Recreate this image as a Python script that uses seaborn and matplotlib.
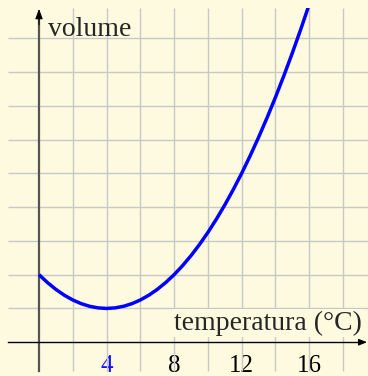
import matplotlib
matplotlib.use("Agg")
import matplotlib.pyplot as plt
import seaborn as sns
from matplotlib.patches import Rectangle

# Volume of water against temperature (arbitrary units), sampled every 0.5 °C
temperature = [0, 0.5, 1, 1.5, 2, 2.5, 3, 3.5, 4, 4.5, 5, 5.5, 6, 6.5, 7, 7.5,
               8, 8.5, 9, 9.5, 10, 10.5, 11, 11.5, 12, 12.5, 13, 13.5, 14,
               14.5, 15, 15.5, 16]
volume = [2.0, 1.766, 1.563, 1.391, 1.25, 1.141, 1.063, 1.016, 1.0, 1.016,
          1.063, 1.141, 1.25, 1.391, 1.563, 1.766, 2.0, 2.266, 2.563, 2.891,
          3.25, 3.641, 4.063, 4.516, 5.0, 5.516, 6.063, 6.641, 7.25, 7.891,
          8.563, 9.266, 10.0]

tick_positions = [4, 8, 12, 16]
tick_labels = ["4", "8", "12", "16"]
highlight_label = "4"
minor_ticks = [2, 4, 6, 8, 10, 12, 14, 16, 18]
grid_x = [2, 4, 6, 8, 10, 12, 14, 16, 18]
grid_y = [1, 2, 3, 4, 5, 6, 7, 8, 9]

BG = "#FEFADF"
GRID = "#C8C8C8"
AXIS_GREY = "#555555"

sns.set_style("white", {"axes.facecolor": BG, "figure.facecolor": BG})
plt.rcParams["font.family"] = ["Liberation Serif", "DejaVu Serif"]

fig = plt.figure(figsize=(3.68, 3.76), dpi=100)
ax = fig.add_axes([0, 0, 1, 1])
ax.set_facecolor(BG)

x_lo, x_hi = -2.31, 19.48
y_lo, y_hi = -1.0, 10.13
ax.set_xlim(x_lo, x_hi)
ax.set_ylim(y_lo, y_hi)

# paper grid
gx0, gx1 = -1.83, x_hi
gy0, gy1 = -0.85, 9.89
ax.vlines(grid_x, gy0, gy1, color=GRID, lw=1.0, zorder=1)
ax.hlines(grid_y, gx0, gx1, color=GRID, lw=1.0, zorder=1)

# curve
sns.lineplot(x=temperature, y=volume, color="#0000FF", linewidth=2.5, ax=ax,
             zorder=3, sort=True)
clip = Rectangle((gx0, gy0), gx1 - gx0, gy1 - gy0, transform=ax.transData)
for ln in ax.lines:
    ln.set_clip_path(clip)
    ln.set_solid_capstyle("butt")
    ln.set_solid_joinstyle("round")

# axes through the origin
for side in ("top", "right"):
    ax.spines[side].set_visible(False)
ax.spines["left"].set_position(("data", 0))
ax.spines["bottom"].set_position(("data", 0))
ax.spines["left"].set_bounds(gy0, 9.6)
ax.spines["bottom"].set_bounds(gx0, 19.1)
ax.spines["left"].set_color(AXIS_GREY)
ax.spines["left"].set_linewidth(1.6)
ax.spines["bottom"].set_color("black")
ax.spines["bottom"].set_linewidth(1.0)
ax.spines["left"].set_zorder(2.5)
ax.spines["bottom"].set_zorder(2.5)

ax.annotate("", xy=(0, 9.87), xytext=(0, 9.4),
            arrowprops=dict(arrowstyle="-|>,head_length=0.6,head_width=0.22",
                            color="black", lw=0.8, shrinkA=0, shrinkB=0,
                            mutation_scale=10))
ax.annotate("", xy=(19.42, 0), xytext=(18.9, 0),
            arrowprops=dict(arrowstyle="-|>,head_length=0.5,head_width=0.2",
                            color="black", lw=0.8, shrinkA=0, shrinkB=0,
                            mutation_scale=10))

ax.set_xticks(tick_positions, tick_labels)
ax.set_xticks(minor_ticks, minor=True)
ax.set_yticks(grid_y, [])
ax.tick_params(axis="x", which="both", direction="inout", length=8, width=1,
               color=AXIS_GREY, labelsize=18, pad=5, labelcolor="black")
ax.tick_params(axis="y", which="both", direction="inout", length=12, width=1,
               color="#333333")
for lab in ax.get_xticklabels():
    if lab.get_text() == highlight_label:
        lab.set_color("#1010FF")

box = dict(facecolor=BG, edgecolor="none", pad=1.0)
ax.text(0.53, 9.07, "volume", fontsize=20, ha="left", va="baseline",
        zorder=4)
ax.text(19.1, 0.364, "temperatura (°C)", fontsize=20, ha="right",
        va="baseline", bbox=box, zorder=4)

fig.savefig("out.png", dpi=100, facecolor=BG)
